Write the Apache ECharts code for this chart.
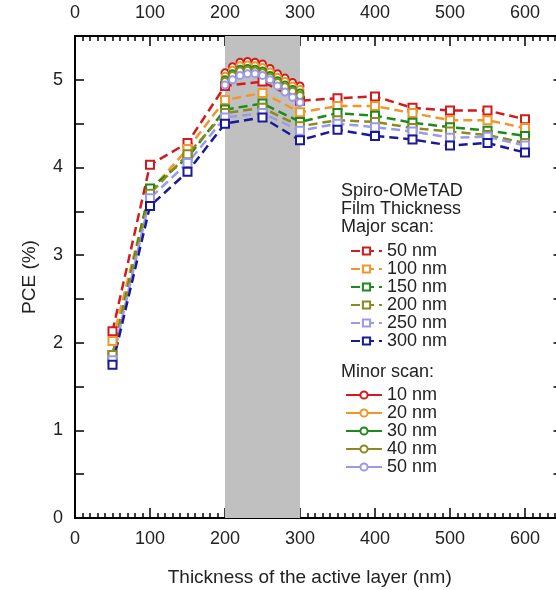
<!DOCTYPE html>
<html><head><meta charset="utf-8">
<script src="https://cdn.jsdelivr.net/npm/echarts@6/dist/echarts.min.js"></script>
<style>html,body{margin:0;padding:0;background:#fff}#c{width:556px;height:590px}</style>
</head><body><div id="c"></div>
<script>
// ---- data ----
const xMajor = [50,100,150,200,250,300,350,400,450,500,550,600];
const major50  = [2.13,4.03,4.28,4.93,4.98,4.76,4.79,4.81,4.68,4.65,4.65,4.55];
const major100 = [2.02,3.73,4.21,4.77,4.85,4.63,4.70,4.70,4.62,4.54,4.54,4.45];
const major150 = [1.86,3.76,4.11,4.66,4.73,4.52,4.62,4.59,4.51,4.46,4.42,4.36];
const major200 = [1.86,3.70,4.15,4.62,4.68,4.47,4.54,4.52,4.45,4.41,4.37,4.28];
const major250 = [1.80,3.65,4.05,4.57,4.62,4.42,4.50,4.46,4.41,4.34,4.35,4.25];
const major300 = [1.75,3.56,3.95,4.50,4.57,4.31,4.43,4.36,4.32,4.25,4.28,4.17];
const xMinor = [200,210,220,230,240,250,260,270,280,290,300];
const minor10 = [5.08,5.15,5.20,5.21,5.20,5.18,5.13,5.07,5.02,4.97,4.93];
const minor20 = [5.04,5.11,5.16,5.17,5.16,5.14,5.09,5.03,4.98,4.93,4.89];
const minor30 = [5.00,5.07,5.12,5.13,5.12,5.10,5.05,4.99,4.94,4.89,4.85];
const minor40 = [4.98,5.05,5.10,5.11,5.10,5.08,5.03,4.97,4.92,4.87,4.82];
const minor50 = [4.94,5.00,5.05,5.07,5.07,5.05,5.00,4.93,4.86,4.80,4.74];
const majorNames = ['50 nm','100 nm','150 nm','200 nm','250 nm','300 nm'];
const minorNames = ['10 nm','20 nm','30 nm','40 nm','50 nm'];
const xTickLabels = ['0','100','200','300','400','500','600'];
const shadeRange = [200,300];

const majorData = [major50,major100,major150,major200,major250,major300];
const minorData = [minor10,minor20,minor30,minor40,minor50];
const majorColors = ['#d01c1c','#f0962c','#1e8a1e','#8a8a1e','#9a9aea','#1a1a96'];
const minorColors = ['#d01c1c','#f0962c','#1e8a1e','#8a8a1e','#9a9aea'];

const FONT = 'Liberation Sans, Arial, sans-serif';
const TXT = '#222';

const series = [];
majorData.forEach((arr,i)=>{
  const s = {
    name:'Major '+majorNames[i], type:'line', xAxisIndex:0, yAxisIndex:0,
    data: xMajor.map((x,j)=>[x,arr[j]]),
    symbol:'rect', symbolSize:8,
    lineStyle:{color:majorColors[i], width:2.5, type:[9,5]},
    itemStyle:{color:'#fff', borderColor:majorColors[i], borderWidth:2},
    z:3
  };
  if(i===0){
    s.markArea = {silent:true, itemStyle:{color:'#c0c0c0'}, data:[[{xAxis:shadeRange[0]},{xAxis:shadeRange[1]}]]};
  }
  series.push(s);
});
minorData.forEach((arr,i)=>{
  series.push({
    name:'Minor '+minorNames[i], type:'line', xAxisIndex:0, yAxisIndex:0,
    data: xMinor.map((x,j)=>[x,arr[j]]),
    symbol:'circle', symbolSize:7,
    lineStyle:{color:minorColors[i], width:2},
    itemStyle:{color:'#fff', borderColor:minorColors[i], borderWidth:2},
    z:4
  });
});

const axisLine = {show:true, onZero:false, lineStyle:{color:'#000', width:2}};
const lbl = {color:TXT, fontSize:18, fontFamily:FONT};
function xAx(pos, interval, len, labels){
  return {type:'value', position:pos, min:0, max:650, interval:interval,
    axisLine, splitLine:{show:false},
    axisTick:{show:true, inside:true, length:len, lineStyle:{color:'#000', width:1.5}},
    axisLabel: labels ? Object.assign({margin: pos==='top'?14:12,
      formatter:v=>xTickLabels.includes(String(v))?String(v):''}, lbl) : {show:false}};
}
function yAx(pos, labels){
  return {type:'value', position:pos, min:0, max:5.5, interval:0.5,
    axisLine, splitLine:{show:false},
    axisTick:{show:true, inside:true, length:9, lineStyle:{color:'#000', width:1.5}},
    axisLabel: labels ? Object.assign({margin:12, formatter:v=>Number.isInteger(v)?String(v):''}, lbl) : {show:false}};
}

const xBottom = xAx('bottom',100,10,true);
xBottom.name = 'Thickness of the active layer (nm)';
xBottom.nameLocation = 'middle';
xBottom.nameGap = 50;
xBottom.nameTextStyle = {color:TXT, fontSize:19, fontFamily:FONT, padding:[0,18,0,0]};
const yLeft = yAx('left',true);
yLeft.name = 'PCE (%)';
yLeft.nameLocation = 'middle';
yLeft.nameGap = 36;
yLeft.nameTextStyle = {color:TXT, fontSize:19, fontFamily:FONT};

const chart = echarts.init(document.getElementById('c'));
chart.setOption({
  animation:false,
  backgroundColor:'#fff',
  grid:{left:75, top:36, width:487.5, height:482, containLabel:false, outerBoundsMode:'none'},
  xAxis:[xBottom, xAx('bottom',10,5,false), xAx('top',100,10,true), xAx('top',10,5,false)],
  yAxis:[yLeft, yAx('right',false)],
  legend:[
    {orient:'vertical', left:345, top:237, itemWidth:31, itemHeight:9, itemGap:0,
     data:majorNames.map(n=>'Major '+n),
     formatter:n=>n.replace(/^Major /,''),
     textStyle:{color:TXT, fontSize:18, fontFamily:FONT, lineHeight:18}},
    {orient:'vertical', left:340, top:381, itemWidth:36, itemHeight:9, itemGap:0,
     data:minorNames.map(n=>'Minor '+n),
     formatter:n=>n.replace(/^Minor /,''),
     textStyle:{color:TXT, fontSize:18, fontFamily:FONT, lineHeight:18}}
  ],
  graphic:[
    {type:'text', left:341, top:182, style:{text:'Spiro-OMeTAD', fill:TXT, font:'18px '+FONT}},
    {type:'text', left:341, top:200, style:{text:'Film Thickness', fill:TXT, font:'18px '+FONT}},
    {type:'text', left:341, top:218, style:{text:'Major scan:', fill:TXT, font:'18px '+FONT}},
    {type:'text', left:341, top:363, style:{text:'Minor scan:', fill:TXT, font:'18px '+FONT}}
  ],
  series
});
</script></body></html>
